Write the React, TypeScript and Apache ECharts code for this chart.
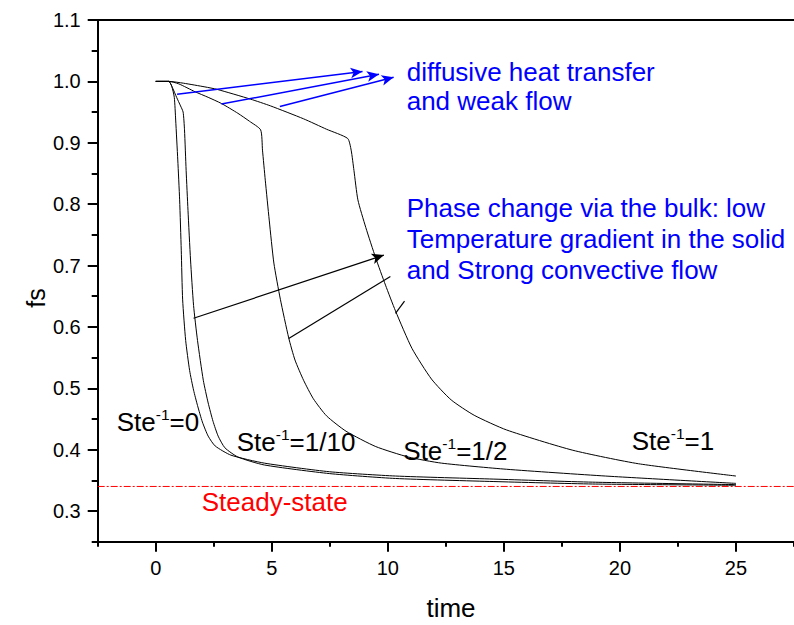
import React, { useEffect, useRef } from "react";
import * as echarts from "echarts";

// ---- data ----
const TIME_TICKS = [0, 5, 10, 15, 20, 25];
const TIME_MINOR = [-2.5, 2.5, 7.5, 12.5, 17.5, 22.5, 27.5];
const FS_TICKS = [0.3, 0.4, 0.5, 0.6, 0.7, 0.8, 0.9, 1.0, 1.1];
const FS_MINOR = [0.25, 0.35, 0.45, 0.55, 0.65, 0.75, 0.85, 0.95, 1.05];
const STEADY_STATE = 0.34;

const ste0T = [0, 0.56, 0.69, 0.8, 0.86, 0.95, 1.03, 1.1, 1.16, 1.29, 1.46, 1.63, 1.8, 2.01, 2.26, 2.56, 3.24, 4.68, 7.48, 10.33, 14.57, 18.82, 25];
const ste0Fs = [1.0, 1.0, 0.992, 0.974, 0.937, 0.872, 0.807, 0.725, 0.644, 0.578, 0.529, 0.497, 0.472, 0.445, 0.422, 0.406, 0.391, 0.378, 0.364, 0.357, 0.352, 0.347, 0.343];

const ste10T = [0, 0.56, 0.73, 0.9, 1.07, 1.18, 1.24, 1.31, 1.39, 1.5, 1.63, 1.8, 2.05, 2.26, 2.47, 2.69, 2.98, 3.54, 4.68, 7.48, 10.33, 14.57, 18.82, 25];
const ste10Fs = [1.0, 1.0, 0.989, 0.974, 0.96, 0.95, 0.921, 0.855, 0.79, 0.709, 0.635, 0.578, 0.513, 0.476, 0.446, 0.422, 0.403, 0.388, 0.375, 0.361, 0.353, 0.348, 0.344, 0.342];

const ste2T = [0, 0.56, 0.99, 1.7, 2.26, 2.83, 3.54, 4.04, 4.52, 4.6, 4.72, 4.89, 5.09, 5.37, 5.73, 6.0, 6.37, 6.79, 7.36, 8.2, 9.48, 10.88, 12.31, 15.12, 19.37, 25];
const ste2Fs = [1.0, 1.0, 0.996, 0.983, 0.974, 0.964, 0.948, 0.935, 0.921, 0.888, 0.839, 0.774, 0.704, 0.645, 0.582, 0.546, 0.513, 0.483, 0.455, 0.43, 0.405, 0.388, 0.378, 0.368, 0.357, 0.345];

const ste1T = [0, 0.56, 1.2, 2.12, 2.64, 4.09, 4.95, 6.37, 7.36, 8.27, 8.42, 8.54, 8.71, 9.05, 9.48, 9.9, 10.33, 11.04, 11.88, 12.73, 13.72, 15.12, 17.97, 20.8, 25];
const ste1Fs = [1.0, 1.0, 0.997, 0.991, 0.987, 0.971, 0.96, 0.939, 0.922, 0.907, 0.888, 0.855, 0.807, 0.762, 0.712, 0.668, 0.626, 0.565, 0.515, 0.481, 0.456, 0.432, 0.399, 0.377, 0.357];

// annotation arrows: [t1, fs1, t2, fs2]
const BLUE_ARROWS = [
  [0.92, 0.979, 8.91, 1.016],
  [2.83, 0.963, 9.62, 1.0115],
  [5.35, 0.959, 10.25, 1.0066],
];
const BLACK_ARROW = [1.63, 0.614, 9.83, 0.717];
const BLACK_LINES = [
  [5.73, 0.581, 10.11, 0.682],
  [10.33, 0.622, 10.72, 0.642],
];

const FONT = "'Liberation Sans', Arial, sans-serif";

const zip = (t: number[], f: number[]) => t.map((v, i) => [v, f[i]]);

export default function App() {
  const ref = useRef<HTMLDivElement>(null);
  useEffect(() => {
    if (!ref.current) return;
    const chart = echarts.init(ref.current, null, { renderer: "svg" });

    const curve = (name: string, data: number[][]) => ({
      name,
      type: "line",
      data,
      xAxisIndex: 0,
      yAxisIndex: 0,
      symbol: "none",
      smooth: 0.2,
      lineStyle: { color: "#000", width: 1 },
      z: 3,
    });

    const markData: any[] = [];
    BLUE_ARROWS.forEach((a) =>
      markData.push([
        { coord: [a[0], a[1]], symbol: "none", lineStyle: { color: "#0000ff", width: 1.5, type: "solid" } },
        { coord: [a[2], a[3]], symbol: "arrow" },
      ])
    );
    markData.push([
      { coord: [BLACK_ARROW[0], BLACK_ARROW[1]], symbol: "none", lineStyle: { color: "#000", width: 1.2, type: "solid" } },
      { coord: [BLACK_ARROW[2], BLACK_ARROW[3]], symbol: "arrow" },
    ]);
    BLACK_LINES.forEach((a) =>
      markData.push([
        { coord: [a[0], a[1]], symbol: "none", lineStyle: { color: "#000", width: 1.2, type: "solid" } },
        { coord: [a[2], a[3]], symbol: "none" },
      ])
    );

    const supLabel = (tail: string) => `{n|Ste}{s|-1}{n|=${tail}}`;
    const rich = {
      n: { fontSize: 25, fontFamily: FONT, fill: "#000", lineHeight: 30 },
      s: { fontSize: 15, fontFamily: FONT, fill: "#000", lineHeight: 30, verticalAlign: "top" },
    };
    const txt = (x: number, y: number, text: string, color: string, extra: any = {}) => ({
      type: "text",
      x,
      y,
      scaleX: 1.04,
      z: 10,
      style: {
        text,
        fill: color,
        fontSize: 25,
        fontFamily: FONT,
        align: "left",
        verticalAlign: "middle",
        ...extra,
      },
    });

    chart.setOption({
      animation: false,
      backgroundColor: "#fff",
      grid: { left: 97.7, top: 20, width: 706.8, height: 521.7, containLabel: false },
      xAxis: [
        {
          type: "value",
          position: "bottom",
          min: -2.5,
          max: 27.5,
          axisLine: { show: true, onZero: false, lineStyle: { color: "#000", width: 2 } },
          axisTick: { show: true, inside: false, length: 10, customValues: TIME_TICKS, lineStyle: { color: "#000", width: 2 } },
          axisLabel: { show: true, customValues: TIME_TICKS, fontSize: 20, fontFamily: FONT, color: "#000", margin: 16 },
          splitLine: { show: false },
        },
        {
          type: "value",
          position: "bottom",
          min: -2.5,
          max: 27.5,
          axisLine: { show: false, onZero: false },
          axisTick: { show: true, inside: false, length: 5, customValues: TIME_MINOR, lineStyle: { color: "#000", width: 2 } },
          axisLabel: { show: false },
          splitLine: { show: false },
        },
        {
          type: "value",
          position: "top",
          min: -2.5,
          max: 27.5,
          axisLine: { show: true, onZero: false, lineStyle: { color: "#000", width: 2 } },
          axisTick: { show: false },
          axisLabel: { show: false },
          splitLine: { show: false },
        },
      ],
      yAxis: [
        {
          type: "value",
          position: "left",
          min: 0.25,
          max: 1.1,
          axisLine: { show: true, onZero: false, lineStyle: { color: "#000", width: 2 } },
          axisTick: { show: true, inside: false, length: 10, customValues: FS_TICKS, lineStyle: { color: "#000", width: 2 } },
          axisLabel: {
            show: true,
            customValues: FS_TICKS,
            formatter: (v: number) => v.toFixed(1),
            fontSize: 20,
            fontFamily: FONT,
            color: "#000",
            margin: 17,
          },
          splitLine: { show: false },
        },
        {
          type: "value",
          position: "left",
          min: 0.25,
          max: 1.1,
          axisLine: { show: false, onZero: false },
          axisTick: { show: true, inside: false, length: 6, customValues: FS_MINOR, lineStyle: { color: "#000", width: 2 } },
          axisLabel: { show: false },
          splitLine: { show: false },
        },
      ],
      series: [
        curve("Ste-1=0", zip(ste0T, ste0Fs)),
        curve("Ste-1=1/10", zip(ste10T, ste10Fs)),
        curve("Ste-1=1/2", zip(ste2T, ste2Fs)),
        curve("Ste-1=1", zip(ste1T, ste1Fs)),
        {
          name: "Steady-state",
          type: "line",
          xAxisIndex: 0,
          yAxisIndex: 0,
          data: [[-2.5, STEADY_STATE], [27.5, STEADY_STATE]],
          symbol: "none",
          lineStyle: { color: "#ff0000", width: 1, type: [7, 2, 2, 2] },
          z: 2,
          markLine: {
            silent: true,
            animation: false,
            symbolSize: [8, 12],
            label: { show: false },
            emphasis: { disabled: true },
            data: markData,
          },
        },
      ],
      graphic: [
        txt(406.7, 72, "diffusive heat transfer", "#0000ff"),
        txt(406.7, 101, "and weak flow", "#0000ff"),
        txt(406.7, 208.5, "Phase change via the bulk: low", "#0000ff"),
        txt(406.7, 239, "Temperature gradient in the solid", "#0000ff"),
        txt(406.7, 270, "and Strong convective flow", "#0000ff"),
        txt(201.7, 502, "Steady-state", "#ff0000"),
        txt(116.7, 422, supLabel("0"), "#000", { rich }),
        txt(236.7, 442, supLabel("1/10"), "#000", { rich }),
        txt(403.3, 451, supLabel("1/2"), "#000", { rich }),
        txt(631.7, 441, supLabel("1"), "#000", { rich }),
        txt(451, 608, "time", "#000", { align: "center" }),
        {
          type: "text",
          x: 36,
          y: 298,
          rotation: Math.PI / 2,
          style: {
            text: "fs",
            fill: "#000",
            fontSize: 25,
            fontFamily: FONT,
            align: "center",
            verticalAlign: "middle",
          },
        },
      ],
    });
    return () => chart.dispose();
  }, []);

  return (
    <div
      ref={ref}
      style={{ position: "absolute", left: 0, top: 0, width: 794, height: 625, background: "#fff" }}
    />
  );
}
